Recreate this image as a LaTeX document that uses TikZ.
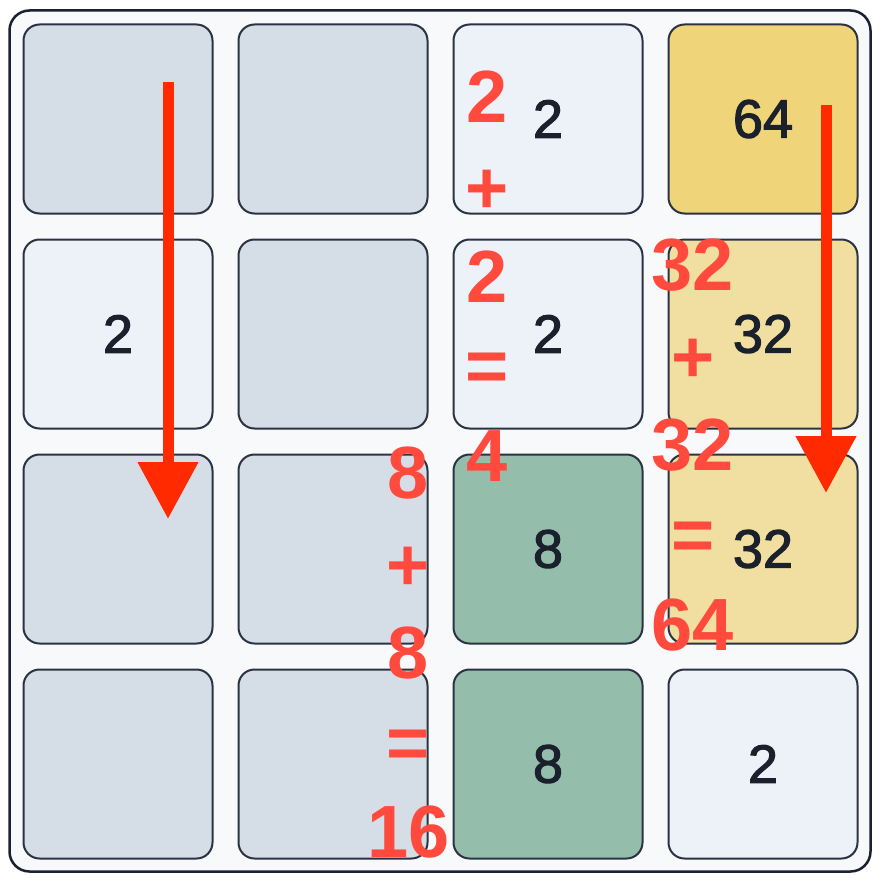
\documentclass[tikz,border=0pt]{standalone}
\usepackage{fontspec}
\setmainfont{Liberation Sans}
\usetikzlibrary{arrows.meta}
\definecolor{bg}{HTML}{F7F9FB}
\definecolor{frame}{HTML}{1C2030}
\definecolor{tileborder}{HTML}{2B3342}
\definecolor{ink}{HTML}{1A202C}
\definecolor{empty}{HTML}{D5DDE7}
\definecolor{two}{HTML}{EDF1F8}
\definecolor{eight}{HTML}{94BEAB}
\definecolor{thirtytwo}{HTML}{F0DFA0}
\definecolor{sixtyfour}{HTML}{EFD479}
\definecolor{arrowred}{HTML}{FF2A00}
\definecolor{labelred}{HTML}{FF4A3D}
\begin{document}
\begin{tikzpicture}[x=1pt,y=-1pt,
  tile/.style={draw=tileborder, line width=2pt, rounded corners=16pt,
    minimum width=189pt, minimum height=189pt, inner sep=0pt,
    font=\fontsize{54}{54}\selectfont\addfontfeature{FakeBold=2.2}, text=ink},
  redlbl/.style={inner sep=0pt, text=labelred, font=\fontsize{74}{74}\selectfont\bfseries},
  movearrow/.style={draw=arrowred, line width=11pt, -{Triangle[width=58pt,length=57pt]}}]
\useasboundingbox (0,0) rectangle (881,883);
\fill[white] (0,0) rectangle (881,883);
\draw[fill=bg, draw=frame, line width=2.5pt, rounded corners=20pt] (9.5,10.5) rectangle (870.5,871.5);
% row 1
\node[tile, fill=empty] (t11) at (118,119) {};
\node[tile, fill=empty] (t12) at (333,119) {};
\node[tile, fill=two] (t13) at (548,119) {2};
\node[tile, fill=sixtyfour] (t14) at (763,119) {64};
% row 2
\node[tile, fill=two] (t21) at (118,334) {2};
\node[tile, fill=empty] (t22) at (333,334) {};
\node[tile, fill=two] (t23) at (548,334) {2};
\node[tile, fill=thirtytwo] (t24) at (763,334) {32};
% row 3
\node[tile, fill=empty] (t31) at (118,549) {};
\node[tile, fill=empty] (t32) at (333,549) {};
\node[tile, fill=eight] (t33) at (548,549) {8};
\node[tile, fill=thirtytwo] (t34) at (763,549) {32};
% row 4
\node[tile, fill=empty] (t41) at (118,764) {};
\node[tile, fill=empty] (t42) at (333,764) {};
\node[tile, fill=eight] (t43) at (548,764) {8};
\node[tile, fill=two] (t44) at (763,764) {2};
% arrows
\coordinate (a1s) at (168,82);
\coordinate (a1e) at (168,519);
\coordinate (a2s) at (826,105);
\coordinate (a2e) at (826,493);
\draw[movearrow] (a1s) -- (a1e);
\draw[movearrow] (a2s) -- (a2e);
% red labels: 2 + 2 = 4
\node[redlbl] (la1) at (487,96.5) {2};
\node[redlbl] (la2) at (487,192) {+};
\node[redlbl] (la3) at (487,276.5) {2};
\node[redlbl] (la4) at (487,372) {=};
\node[redlbl] (la5) at (487,456) {4};
% 32 + 32 = 64
\node[redlbl] (lb1) at (693,265) {32};
\node[redlbl] (lb2) at (693,361) {+};
\node[redlbl] (lb3) at (693,445) {32};
\node[redlbl] (lb4) at (693,541) {=};
\node[redlbl] (lb5) at (693,625.5) {64};
% 8 + 8 = 16
\node[redlbl] (lc1) at (408,473.5) {8};
\node[redlbl] (lc2) at (408,569) {+};
\node[redlbl] (lc3) at (408,653.5) {8};
\node[redlbl] (lc4) at (408,749) {=};
\node[redlbl] (lc5) at (409,832.5) {16};
\end{tikzpicture}
\end{document}
